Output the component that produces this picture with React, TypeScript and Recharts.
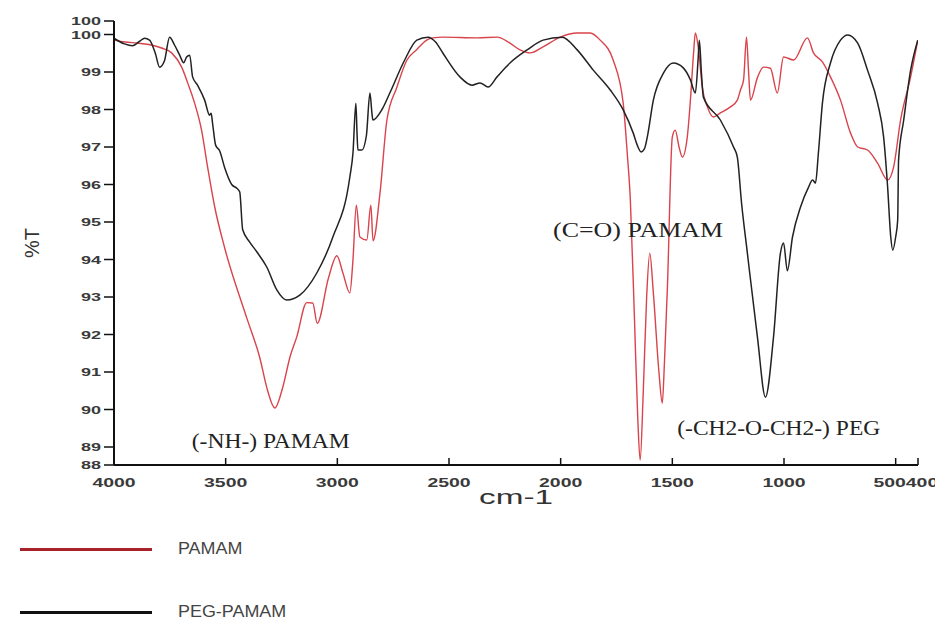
import React from 'react';
import { LineChart, Line, XAxis, YAxis, Legend, ReferenceDot } from 'recharts';

// PAMAM (red) spectrum
const pamamWavenumber = [
  4000, 3950, 3895, 3832, 3787, 3742, 3697, 3670, 3639, 3608, 3581, 3549, 3504, 3406, 3348, 3312, 3280, 3244,
  3212, 3182, 3137, 3110, 3090, 3040, 3002, 2975, 2944, 2930, 2915, 2899, 2868, 2850, 2840, 2809, 2778, 2733, 2690,
  2644, 2600, 2572, 2527, 2374, 2285, 2227, 2182, 2137, 2079, 2002, 1926, 1868, 1823, 1765, 1720, 1702, 1688,
  1670, 1655, 1644, 1630, 1615, 1601, 1585, 1560, 1545, 1535, 1522, 1500, 1487, 1470, 1455, 1433, 1420, 1405,
  1397, 1384, 1366, 1343, 1316, 1285, 1240, 1209, 1195, 1181, 1168, 1159, 1150, 1119, 1092, 1061, 1030, 1002,
  957, 895, 868, 828, 792, 747, 702, 670, 626, 581, 536, 509, 478, 433, 401,
];
const pamamT = [
  99.85, 99.8, 99.77, 99.72, 99.64, 99.51, 99.13, 98.71, 98.17, 97.45, 96.47, 95.4, 94.3, 92.45, 91.4, 90.5, 90.04, 90.6,
  91.4, 91.93, 92.85, 92.84, 92.3, 93.5, 94.1, 93.64, 93.11, 93.99, 95.45, 94.6, 94.52, 95.45, 94.5, 95.77, 97.72, 98.6, 99.3,
  99.6, 99.85, 99.91, 99.93, 99.91, 99.93, 99.77, 99.59, 99.51, 99.67, 99.93, 100.04, 100.04, 99.85, 99.32, 98.17, 96.84, 95.59,
  92.5, 89.8, 88.65, 90.5, 93.0, 94.17, 93.11, 91.0, 90.17, 91.3, 93.27, 97.27, 97.45, 97.0, 96.73, 97.27, 98.17, 99.5,
  100.04, 99.67, 98.6, 98.07, 97.8, 97.91, 98.07, 98.25, 98.52, 98.79, 99.93, 99.05, 98.25, 98.85, 99.13, 99.1, 98.44, 99.4,
  99.32, 99.91, 99.51, 99.27, 98.87, 98.25, 97.37, 97.0, 96.92, 96.57, 96.12, 96.47, 97.72, 98.87, 99.85,
];

// PEG-PAMAM (black) spectrum
const pegWavenumber = [
  4000, 3953, 3917, 3885, 3863, 3841, 3815, 3796, 3774, 3751, 3729, 3706, 3688, 3675, 3661, 3648, 3626, 3594,
  3572, 3565, 3558, 3545, 3527, 3504, 3473, 3450, 3437, 3424, 3393, 3360, 3316, 3271, 3227, 3168, 3092, 3020,
  2944, 2930, 2917, 2912, 2908, 2890, 2870, 2854, 2845, 2841, 2800, 2765, 2700, 2644, 2594, 2560, 2527, 2451,
  2397, 2361, 2325, 2285, 2227, 2150, 2079, 1993, 1926, 1854, 1778, 1720, 1675, 1657, 1640, 1625, 1612, 1585,
  1540, 1496, 1451, 1419, 1397, 1385, 1379, 1370, 1361, 1285, 1226, 1209, 1190, 1164, 1119, 1083, 1047, 1016,
  1002, 985, 962, 926, 890, 872, 859, 846, 828, 792, 747, 715, 670, 626, 581, 554, 536, 522, 513, 500, 491,
  487, 464, 433, 401,
];
const pegT = [
  99.9, 99.75, 99.7, 99.82, 99.9, 99.85, 99.5, 99.13, 99.3, 99.93, 99.72, 99.45, 99.25, 99.4, 99.45, 98.87, 98.65, 98.25,
  97.85, 97.9, 97.6, 97.05, 96.9, 96.44, 96.0, 95.9, 95.8, 94.8, 94.47, 94.2, 93.8, 93.19, 92.92, 93.05, 93.64, 94.6,
  96.2, 96.84, 98.17, 97.4, 96.92, 96.92, 97.3, 98.44, 97.9, 97.72, 98.0, 98.44, 99.3, 99.85, 99.93, 99.8, 99.5, 98.87,
  98.65, 98.71, 98.6, 98.87, 99.24, 99.59, 99.85, 99.93, 99.59, 99.05, 98.52, 97.99, 97.37, 97.05, 96.87, 96.95, 97.27, 98.25,
  98.97, 99.24, 99.11, 98.79, 98.44, 99.3, 99.85, 99.0, 98.33, 97.72, 97.0, 96.73, 95.5, 94.17, 91.93, 90.33, 91.93, 94.17,
  94.44, 93.7, 94.6, 95.4, 95.93, 96.12, 96.04, 96.84, 98.17, 99.24, 99.85, 99.99, 99.77, 99.05, 98.17, 97.27, 95.93, 94.6, 94.25, 94.6, 95.05,
  96.65, 97.72, 99.05, 99.85,
];

const xTicks = [4000, 3500, 3000, 2500, 2000, 1500, 1000, 500, 400];
const yTickValues = [88.52, 89, 90, 91, 92, 93, 94, 95, 96, 97, 98, 99, 100, 100.36];
const yTickLabels = ['88', '89', '90', '91', '92', '93', '94', '95', '96', '97', '98', '99', '100', '100'];

const annotations = [
  { text: '(-NH-) PAMAM', wn: 3652, t: 88.97, len: 158 },
  { text: '(C=O) PAMAM', wn: 2034, t: 94.6, len: 170 },
  { text: '(-CH2-O-CH2-) PEG', wn: 1478, t: 89.32, len: 203 },
];

const pamamData = pamamWavenumber.map((x, i) => ({ x, y: pamamT[i] }));
const pegData = pegWavenumber.map((x, i) => ({ x, y: pegT[i] }));

const sans = '"Liberation Sans", Arial, sans-serif';
const serif = '"Liberation Serif", "Times New Roman", serif';

const XTick = (props: any) => {
  const { x, y, payload } = props;
  const label = String(payload.value);
  const shift = payload.value === 500 ? -6 : payload.value === 400 ? 4 : 0;
  return (
    <g>
      <line x1={x} x2={x} y1={y} y2={y - 7} stroke="#111" strokeWidth={1.5} />
      <text
        x={x + shift}
        y={y + 17}
        textAnchor="middle"
        dominantBaseline="central"
        fontFamily={sans}
        fontSize={13}
        fontWeight="bold"
        fill="#3a3a3a"
        textLength={label.length * 10.8}
        lengthAdjust="spacingAndGlyphs"
      >
        {label}
      </text>
    </g>
  );
};

const YTick = (props: any) => {
  const { x, y, payload } = props;
  const label = yTickLabels[yTickValues.indexOf(payload.value)] ?? '';
  return (
    <text
      x={x}
      y={y}
      textAnchor="end"
      dominantBaseline="central"
      fontFamily={sans}
      fontSize={11}
      fontWeight="bold"
      fill="#3a3a3a"
      textLength={label.length * 10}
      lengthAdjust="spacingAndGlyphs"
    >
      {label}
    </text>
  );
};

const yLabel = (props: any) => {
  const { viewBox } = props;
  const cx = 24;
  const cy = viewBox.y + viewBox.height / 2;
  return (
    <text x={cx} y={cy} transform={`rotate(-90 ${cx} ${cy})`} textAnchor="middle" dominantBaseline="central"
      fontFamily={sans} fontSize={20} fill="#333">
      %T
    </text>
  );
};

const xLabel = (props: any) => {
  const { viewBox } = props;
  const cx = viewBox.x + viewBox.width / 2;
  return (
    <text x={cx} y={viewBox.y + 31} textAnchor="middle" dominantBaseline="central" fontFamily={sans}
      fontSize={21} fill="#333" textLength={74} lengthAdjust="spacingAndGlyphs">
      cm-1
    </text>
  );
};

const renderLegend = (props: any) => {
  const { payload } = props;
  return (
    <div style={{ position: 'relative', width: 320, height: 80, fontFamily: sans }}>
      {(payload || []).map((item: any, i: number) => (
        <div key={item.value} style={{ position: 'absolute', left: 0, top: i === 0 ? 5 : 68, height: 12, display: 'flex', alignItems: 'center' }}>
          <div style={{ width: 132, height: 3, background: i === 0 ? '#a8222c' : '#111' }} />
          <span style={{ marginLeft: 26, fontSize: 16, lineHeight: '12px', color: '#444', display: 'inline-block', transform: 'scaleX(1.12)', transformOrigin: 'left center' }}>{item.value}</span>
        </div>
      ))}
    </div>
  );
};

export default function App() {
  return (
    <LineChart width={927} height={613} margin={{ top: 13, right: 17, left: 0, bottom: 106 }}>
      <XAxis
        dataKey="x"
        type="number"
        domain={[400, 4000]}
        reversed
        ticks={xTicks}
        interval={0}
        height={50}
        tickSize={0}
        tickMargin={0}
        tick={<XTick />}
        axisLine={{ stroke: '#111', strokeWidth: 2 }}
        label={xLabel}
        allowDataOverflow
      />
      <YAxis
        type="number"
        domain={[88.52, 100.36]}
        ticks={yTickValues}
        interval={0}
        width={106}
        tickSize={10}
        tickMargin={3}
        tick={<YTick />}
        tickLine={{ stroke: '#111', strokeWidth: 1.5 }}
        axisLine={{ stroke: '#111', strokeWidth: 2 }}
        label={yLabel}
        allowDataOverflow
      />
      <Legend
        layout="vertical"
        align="center"
        verticalAlign="middle"
        content={renderLegend}
        wrapperStyle={{ left: 12, top: 530, width: 320, height: 80 }}
      />
      <Line
        data={pamamData}
        dataKey="y"
        name="PAMAM"
        type="monotone"
        stroke="#d9434b"
        strokeWidth={1.4}
        dot={false}
        isAnimationActive={false}
      />
      <Line
        data={pegData}
        dataKey="y"
        name="PEG-PAMAM"
        type="monotone"
        stroke="#222"
        strokeWidth={1.5}
        dot={false}
        isAnimationActive={false}
      />
      {annotations.map((a) => (
        <ReferenceDot
          key={a.text}
          x={a.wn}
          y={a.t}
          r={1}
          ifOverflow="visible"
          shape={(p: any) => (
            <text x={p.cx} y={p.cy} fontFamily={serif} fontSize={21} fill="#222"
              textLength={a.len} lengthAdjust="spacingAndGlyphs">
              {a.text}
            </text>
          )}
        />
      ))}
    </LineChart>
  );
}
